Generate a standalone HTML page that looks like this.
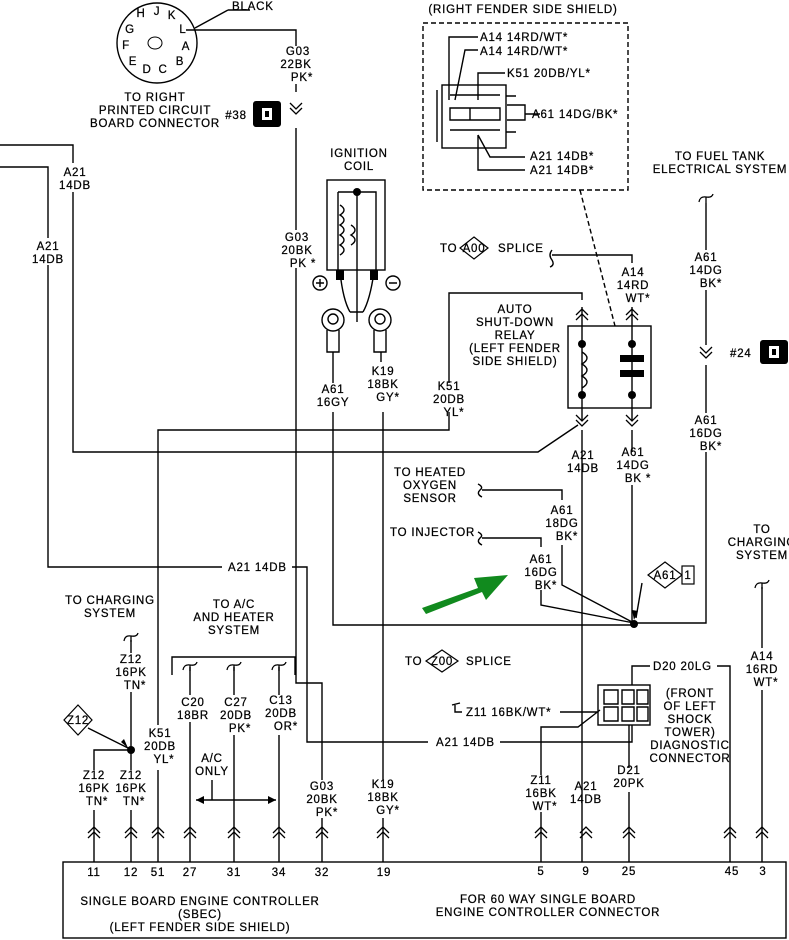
<!DOCTYPE html>
<html><head><meta charset="utf-8"><style>
html,body{margin:0;padding:0;background:#fff}
svg{display:block}
text{font-family:"Liberation Sans",sans-serif;font-size:11.5px;fill:#000;letter-spacing:0.8px;stroke:#000;stroke-width:0.25}
.c{text-anchor:middle}
</style></head><body>
<svg width="789" height="940" viewBox="0 0 789 940" xmlns="http://www.w3.org/2000/svg">
<defs>
<path id="chu" d="M-6,5 L0,-1 L6,5 M-6,10 L0,4 L6,10" fill="none" stroke="#000" stroke-width="1.3"/>
<path id="chd" d="M-6,-5 L0,1 L6,-5 M-6,-10 L0,-4 L6,-10" fill="none" stroke="#000" stroke-width="1.3"/>
<path id="til" d="M-7,3 Q-6,-3 0,-2 Q6,-1 7,-5 M0,-2 V4" fill="none" stroke="#000" stroke-width="1.3"/>
</defs>
<g stroke="#000" stroke-width="1.4" fill="none">
<circle cx="157" cy="43" r="40"/>
<path d="M186,30 H296 V46 M296,84 V92 M296,128 V230 M296,268 V683 H322 V780 M322,818 V862"/>
<path d="M195,28 L228,10 M228,10 H250"/>
<path d="M0,145 H73 V163 M73,192 V452 H538 L578,425"/>
<path d="M0,167 H48 V238 M48,265 V567 H222 M292,567 H307 V742 H428 M500,742 H632 V725"/>
<rect x="327" y="180" width="58" height="90"/>
<path d="M338,192 H376 V270 M357,192 V322 M338,192 V270"/>
<path d="M340,205 Q348,210 340,215 Q348,220 340,225 Q348,230 340,235 Q348,240 340,245 Q348,250 340,255"/>
<path d="M351,225 Q359,230 351,235 Q359,240 351,245"/>
<path d="M340,272 Q343,300 350,312 M374,272 Q370,300 363,312 M350,312 H363"/>
<circle cx="320" cy="283" r="7"/><circle cx="393" cy="283" r="7"/>
<path d="M316,283 H324 M320,279 V287 M389,283 H397"/>
<circle cx="333" cy="320" r="11"/><circle cx="333" cy="319" r="5"/>
<circle cx="380" cy="320" r="11"/><circle cx="380" cy="319" r="5"/>
<path d="M327,330 V352 H339 V330 M374,330 V352 H386 V330"/>
<path d="M333,352 V383 M333,412 V625 H634"/>
<path d="M381,352 V362 M383,412 V780 M383,818 V862"/>
<rect x="423" y="23" width="205" height="167" stroke-dasharray="5,3"/>
<path d="M580,190 L615,326" stroke-dasharray="5,3"/>
<rect x="442" y="85" width="64" height="63"/>
<path d="M437,90 V142 M450,95 H500 M450,130 H500 M450,108 H500 V120 H450 Z M470,108 V120 M507,105 H525 V120 H507 M506,96 H516 M506,132 H516"/>
<path d="M449,100 V37 H478 M455,100 L465,50 H478 M478,100 V73 H505 M525,114 H540 M478,135 V170 H525 M478,135 L490,157 H525"/>
<rect x="568" y="326" width="83" height="82"/>
<path d="M582,300 V293 H449 V383 M449,412 V430 H158 V725 M158,770 V862"/>
<path d="M582,307 V420 M582,430 V862"/>
<path d="M582,352 Q592,358 582,364 Q592,370 582,376 Q592,382 582,388"/>
<path d="M632,307 V420 M632,430 V452 M632,485 V625"/>
<path d="M632,263 V255 H552 M552,250 Q548,255 552,260 Q555,265 550,267"/>
<path d="M706,203 V250 M706,290 V345 M706,365 V413 M706,452 V623 H634"/>
<path d="M482,490 H562 V500 M562,545 V585 L634,623 M482,538 H541 V547 M541,590 V605 L634,623"/>
<path d="M478,484 Q484,487 480,490 Q476,494 482,497 M478,532 Q484,535 480,538 Q476,542 482,545"/>
<path d="M642,583 L636,618"/>
<path d="M762,587 V648 M762,690 V862"/>
<path d="M131,640 V653 M131,692 V770 M131,810 V862 M131,750 H94 V770 M94,810 V862 M88,728 L128,748"/>
<path d="M172,675 V657 H295 V675 M190,667 V695 M190,722 V862 M234,667 V695 M234,735 V862 M279,667 V695 M279,735 V862 M212,780 V800 M196,800 H276"/>
<rect x="598" y="685" width="52" height="40"/>
<path d="M604,690 H618 V704 H604 Z M604,707 H618 V721 H604 Z M622,690 H634 V704 H622 Z M622,707 H634 V721 H622 Z M637,690 H648 V704 H637 Z M637,707 H648 V721 H637 Z M632,685 V666 H650 M717,666 H730 V862"/>
<path d="M560,712 H598 M541,775 V727 H578 L600,710 M541,812 V862 M629,725 V768 M629,792 V862"/>
<path d="M455,705 V712 H462 M452,705 L460,703"/>
<rect x="63" y="862" width="723" height="76"/>
</g>
<g>
<use href="#chd" x="296" y="113"/><use href="#chu" x="582" y="310"/><use href="#chu" x="632" y="310"/>
<use href="#chd" x="582" y="425"/><use href="#chd" x="632" y="425"/><use href="#chd" x="706" y="357"/>
<use href="#chu" x="94" y="828"/><use href="#chu" x="131" y="828"/><use href="#chu" x="158" y="828"/><use href="#chu" x="190" y="828"/><use href="#chu" x="234" y="828"/><use href="#chu" x="279" y="828"/><use href="#chu" x="322" y="828"/><use href="#chu" x="383" y="828"/><use href="#chu" x="541" y="828"/><use href="#chu" x="586" y="828"/><use href="#chu" x="629" y="828"/><use href="#chu" x="730" y="828"/><use href="#chu" x="762" y="828"/>
<use href="#til" x="706" y="199"/><use href="#til" x="762" y="585"/><use href="#til" x="131" y="638"/><use href="#til" x="190" y="667"/><use href="#til" x="234" y="667"/><use href="#til" x="279" y="667"/>
</g>
<g fill="#000">
<circle cx="634" cy="624" r="4"/><circle cx="131" cy="750" r="4"/><circle cx="357" cy="192" r="4"/>
<circle cx="582" cy="344" r="4"/><circle cx="582" cy="395" r="4"/><circle cx="632" cy="344" r="4"/><circle cx="632" cy="395" r="4"/>
<rect x="620" y="355" width="24" height="7"/><rect x="620" y="370" width="24" height="7"/>
<rect x="336" y="270" width="8" height="10"/><rect x="370" y="270" width="8" height="10"/>
<rect x="253" y="101" width="28" height="26" rx="3"/><rect x="760" y="340" width="28" height="24" rx="3"/>
<path d="M128,748 L121,742 L124,739 Z"/><path d="M634,620 L632,610 L638,611 Z"/>
<path d="M196,800 L204,796 V804 Z M276,800 L268,796 V804 Z"/>
</g>
<rect x="262" y="108" width="10" height="12" fill="#fff"/><rect x="265" y="111" width="4" height="6" fill="#000"/>
<rect x="769" y="346" width="10" height="12" fill="#fff"/><rect x="772" y="349" width="4" height="6" fill="#000"/>
<path d="M422,608 L478,588 L474,578 L508,575 L486,600 L482,592 L426,614 Z" fill="#118a1e"/>
<g fill="#fff" stroke="#000" stroke-width="1.2">
<path d="M78,705 L92,720 L78,735 L64,720 Z"/>
<path d="M474,237 L488,248 L474,259 L460,248 Z"/>
<path d="M442,650 L458,661 L442,672 L426,661 Z"/>
<path d="M665,562 L682,575 L665,588 L648,575 Z"/><rect x="682" y="566" width="12" height="18"/>
</g>
<g>
<text x="141" y="17" class="c" font-size="9">H</text><text x="157" y="15" class="c" font-size="9">J</text><text x="172" y="19" class="c" font-size="9">K</text>
<text x="130" y="33" class="c" font-size="9">G</text><text x="183" y="33" class="c" font-size="9">L</text>
<text x="126" y="49" class="c" font-size="9">F</text><text x="186" y="50" class="c" font-size="9">A</text>
<text x="133" y="65" class="c" font-size="9">E</text><text x="180" y="65" class="c" font-size="9">B</text>
<text x="147" y="73" class="c" font-size="9">D</text><text x="163" y="73" class="c" font-size="9">C</text>
</g>
<ellipse cx="155" cy="43" rx="7" ry="6" fill="none" stroke="#000"/>
<text x="232" y="10">BLACK</text>
<text x="298" y="55" class="c">G03</text><text x="296" y="68" class="c">22BK</text><text x="302" y="81" class="c">PK*</text>
<text x="155" y="101" class="c">TO RIGHT</text><text x="155" y="114" class="c">PRINTED CIRCUIT</text><text x="155" y="127" class="c">BOARD CONNECTOR</text>
<text x="236" y="119" class="c">#38</text>
<text x="75" y="176" class="c">A21</text><text x="75" y="189" class="c">14DB</text>
<text x="48" y="250" class="c">A21</text><text x="48" y="263" class="c">14DB</text>
<text x="359" y="157" class="c">IGNITION</text><text x="359" y="170" class="c">COIL</text>
<text x="297" y="241" class="c">G03</text><text x="297" y="254" class="c">20BK</text><text x="303" y="267" class="c">PK *</text>
<text x="333" y="393" class="c">A61</text><text x="333" y="406" class="c">16GY</text>
<text x="383" y="375" class="c">K19</text><text x="383" y="388" class="c">18BK</text><text x="388" y="401" class="c">GY*</text>
<text x="523" y="13" class="c">(RIGHT FENDER SIDE SHIELD)</text>
<text x="480" y="41">A14 14RD/WT*</text><text x="480" y="55">A14 14RD/WT*</text>
<text x="507" y="77">K51 20DB/YL*</text><text x="532" y="118">A61 14DG/BK*</text>
<text x="530" y="160">A21 14DB*</text><text x="530" y="174">A21 14DB*</text>
<text x="720" y="160" class="c">TO FUEL TANK</text><text x="720" y="173" class="c">ELECTRICAL SYSTEM</text>
<text x="440" y="252">TO</text><text x="474" y="252" class="c" font-size="8">A00</text><text x="498" y="252">SPLICE</text>
<text x="633" y="276" class="c">A14</text><text x="633" y="289" class="c">14RD</text><text x="638" y="302" class="c">WT*</text>
<text x="706" y="261" class="c">A61</text><text x="706" y="274" class="c">14DG</text><text x="711" y="287" class="c">BK*</text>
<text x="515" y="313" class="c">AUTO</text><text x="515" y="326" class="c">SHUT-DOWN</text><text x="515" y="339" class="c">RELAY</text><text x="515" y="352" class="c">(LEFT FENDER</text><text x="515" y="365" class="c">SIDE SHIELD)</text>
<text x="730" y="357">#24</text>
<text x="449" y="390" class="c">K51</text><text x="449" y="403" class="c">20DB</text><text x="454" y="416" class="c">YL*</text>
<text x="706" y="424" class="c">A61</text><text x="706" y="437" class="c">16DG</text><text x="711" y="450" class="c">BK*</text>
<text x="583" y="459" class="c">A21</text><text x="583" y="472" class="c">14DB</text>
<text x="633" y="456" class="c">A61</text><text x="633" y="469" class="c">14DG</text><text x="638" y="482" class="c">BK *</text>
<text x="430" y="476" class="c">TO HEATED</text><text x="430" y="489" class="c">OXYGEN</text><text x="430" y="502" class="c">SENSOR</text>
<text x="562" y="514" class="c">A61</text><text x="562" y="527" class="c">18DG</text><text x="567" y="540" class="c">BK*</text>
<text x="390" y="536">TO INJECTOR</text>
<text x="541" y="563" class="c">A61</text><text x="541" y="576" class="c">16DG</text><text x="546" y="589" class="c">BK*</text>
<text x="665" y="579" class="c" font-size="8">A61</text><text x="688" y="579" class="c" font-size="9">1</text>
<text x="762" y="533" class="c">TO</text><text x="762" y="546" class="c">CHARGING</text><text x="762" y="559" class="c">SYSTEM</text>
<text x="228" y="571">A21 14DB</text>
<text x="110" y="604" class="c">TO CHARGING</text><text x="110" y="617" class="c">SYSTEM</text>
<text x="234" y="608" class="c">TO A/C</text><text x="234" y="621" class="c">AND HEATER</text><text x="234" y="634" class="c">SYSTEM</text>
<text x="131" y="663" class="c">Z12</text><text x="131" y="676" class="c">16PK</text><text x="135" y="689" class="c">TN*</text>
<text x="78" y="724" class="c" font-size="8">Z12</text>
<text x="160" y="737" class="c">K51</text><text x="160" y="750" class="c">20DB</text><text x="164" y="763" class="c">YL*</text>
<text x="193" y="706" class="c">C20</text><text x="193" y="719" class="c">18BR</text>
<text x="236" y="706" class="c">C27</text><text x="236" y="719" class="c">20DB</text><text x="240" y="732" class="c">PK*</text>
<text x="281" y="704" class="c">C13</text><text x="281" y="717" class="c">20DB</text><text x="286" y="730" class="c">OR*</text>
<text x="212" y="762" class="c">A/C</text><text x="212" y="775" class="c">ONLY</text>
<text x="94" y="779" class="c">Z12</text><text x="94" y="792" class="c">16PK</text><text x="97" y="805" class="c">TN*</text>
<text x="131" y="779" class="c">Z12</text><text x="131" y="792" class="c">16PK</text><text x="134" y="805" class="c">TN*</text>
<text x="322" y="790" class="c">G03</text><text x="322" y="803" class="c">20BK</text><text x="327" y="816" class="c">PK*</text>
<text x="383" y="788" class="c">K19</text><text x="383" y="801" class="c">18BK</text><text x="388" y="814" class="c">GY*</text>
<text x="405" y="665">TO</text><text x="442" y="665" class="c" font-size="8">Z00</text><text x="466" y="665">SPLICE</text>
<text x="653" y="670">D20 20LG</text>
<text x="762" y="660" class="c">A14</text><text x="762" y="673" class="c">16RD</text><text x="766" y="686" class="c">WT*</text>
<text x="466" y="716">Z11 16BK/WT*</text>
<text x="690" y="697" class="c">(FRONT</text><text x="690" y="710" class="c">OF LEFT</text><text x="690" y="723" class="c">SHOCK</text><text x="690" y="736" class="c">TOWER)</text><text x="690" y="749" class="c">DIAGNOSTIC</text><text x="690" y="762" class="c">CONNECTOR</text>
<text x="436" y="746">A21 14DB</text>
<text x="629" y="774" class="c">D21</text><text x="629" y="787" class="c">20PK</text>
<text x="541" y="784" class="c">Z11</text><text x="541" y="797" class="c">16BK</text><text x="545" y="810" class="c">WT*</text>
<text x="586" y="790" class="c">A21</text><text x="586" y="803" class="c">14DB</text>
<text x="94" y="876" class="c">11</text><text x="131" y="876" class="c">12</text><text x="158" y="876" class="c">51</text><text x="190" y="876" class="c">27</text><text x="234" y="876" class="c">31</text><text x="279" y="876" class="c">34</text><text x="322" y="876" class="c">32</text><text x="384" y="876" class="c">19</text><text x="541" y="875" class="c">5</text><text x="586" y="875" class="c">9</text><text x="629" y="875" class="c">25</text><text x="732" y="875" class="c">45</text><text x="763" y="875" class="c">3</text>
<text x="200" y="905" class="c">SINGLE BOARD ENGINE CONTROLLER</text><text x="200" y="918" class="c">(SBEC)</text><text x="200" y="931" class="c">(LEFT FENDER SIDE SHIELD)</text>
<text x="548" y="903" class="c">FOR 60 WAY SINGLE BOARD</text><text x="548" y="916" class="c">ENGINE CONTROLLER CONNECTOR</text>
</svg>
</body></html>
